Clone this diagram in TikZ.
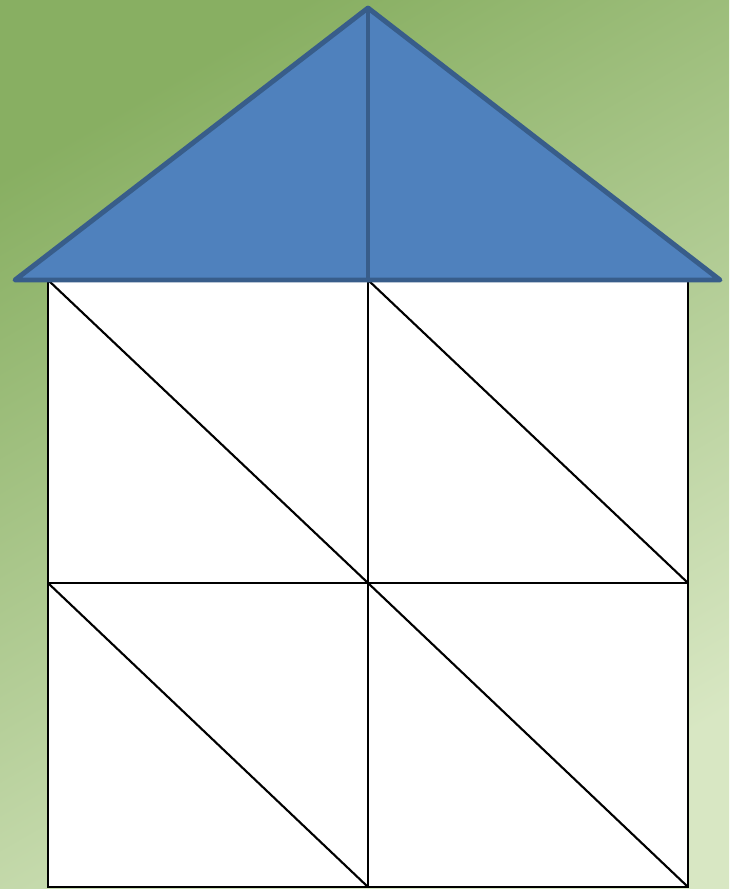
\documentclass[tikz,border=0pt]{standalone}
\usepackage{tikz}
\usetikzlibrary{calc}
\definecolor{bgdark}{RGB}{136,175,98}
\definecolor{bglight}{RGB}{216,231,195}
\definecolor{roofblue}{RGB}{79,129,189}
\definecolor{roofline}{RGB}{56,93,138}

\begin{document}
\begin{tikzpicture}[x=0.01cm, y=-0.01cm, roof/.style={draw=roofline, line width=1.4pt, line join=round, line cap=round, fill=roofblue}, wall/.style={draw=black, line width=0.6pt}]
\useasboundingbox (0,0) rectangle (729,889);
\shade[top color=bgdark, bottom color=bglight, shading angle=30] (0,0) rectangle (729,889);
% named corners
\coordinate (apex) at (368,8);
\coordinate (eaveL) at (15,280);
\coordinate (eaveR) at (720,280);
\coordinate (mid) at (368,280);
\coordinate (tl) at (48,280);
\coordinate (tr) at (688,280);
\coordinate (ml) at (48,583);
\coordinate (mc) at (368,583);
\coordinate (mr) at (688,583);
\coordinate (bl) at (48,887);
\coordinate (bc) at (368,887);
\coordinate (br) at (688,887);
% walls
\draw[wall, fill=white] (tl) rectangle (br);
\draw[wall] (mid) -- (bc);
\draw[wall] (ml) -- (mr);
\draw[wall] (tl) -- (mc);
\draw[wall] (mid) -- (mr);
\draw[wall] (ml) -- (bc);
\draw[wall] (mc) -- (br);
% roof
\draw[roof] (eaveL) -- (apex) -- (eaveR) -- cycle;
\draw[roof] (apex) -- (mid);
\end{tikzpicture}
\end{document}
